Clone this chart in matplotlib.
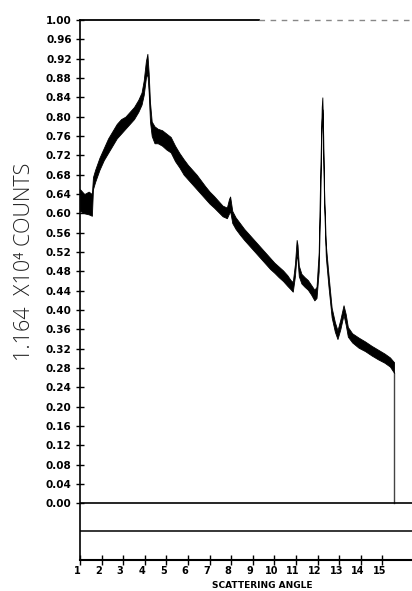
import numpy as np
import matplotlib
matplotlib.use("Agg")
import matplotlib.pyplot as plt
from matplotlib.transforms import offset_copy

# ---- scan data: scattering angle vs counts (noise band, lower / upper edge) ----
angle = [1.00, 1.20, 1.40, 1.55, 1.60, 1.70, 1.90, 2.10, 2.30, 2.50,
         2.70, 2.90, 3.10, 3.30, 3.50, 3.70, 3.85, 3.95, 4.05, 4.12,
         4.18, 4.24, 4.32, 4.45, 4.60, 4.80, 5.00, 5.20, 5.40, 5.60,
         5.80, 6.00, 6.20, 6.40, 6.60, 6.80, 7.00, 7.20, 7.40, 7.60,
         7.80, 7.90, 7.95, 8.05, 8.20, 8.40, 8.60, 8.80, 9.00, 9.20,
         9.40, 9.60, 9.80, 10.00, 10.20, 10.40, 10.60, 10.75, 10.85, 10.95,
         11.03, 11.07, 11.13, 11.25, 11.40, 11.55, 11.70, 11.85, 11.95, 12.05,
         12.12, 12.19, 12.22, 12.26, 12.30, 12.38, 12.50, 12.65, 12.80, 12.92,
         13.05, 13.20, 13.30, 13.40, 13.60, 13.90, 14.20, 14.50, 14.80, 15.10,
         15.35, 15.54]
counts_lo = [0.605, 0.600, 0.598, 0.595, 0.650, 0.665, 0.690, 0.710, 0.725, 0.740,
             0.755, 0.765, 0.775, 0.785, 0.795, 0.810, 0.825, 0.845, 0.880, 0.890,
             0.850, 0.790, 0.760, 0.745, 0.745, 0.740, 0.732, 0.726, 0.708, 0.695,
             0.680, 0.670, 0.660, 0.650, 0.640, 0.630, 0.620, 0.612, 0.603, 0.594,
             0.590, 0.600, 0.605, 0.580, 0.568, 0.556, 0.545, 0.535, 0.525, 0.515,
             0.505, 0.495, 0.485, 0.477, 0.468, 0.460, 0.450, 0.443, 0.438, 0.470,
             0.515, 0.505, 0.470, 0.455, 0.448, 0.442, 0.432, 0.420, 0.425, 0.480,
             0.620, 0.790, 0.815, 0.720, 0.620, 0.510, 0.450, 0.385, 0.355, 0.340,
             0.360, 0.390, 0.370, 0.345, 0.333, 0.322, 0.315, 0.306, 0.298, 0.291,
             0.283, 0.270]
counts_hi = [0.650, 0.640, 0.645, 0.640, 0.675, 0.690, 0.715, 0.735, 0.755, 0.770,
             0.785, 0.795, 0.800, 0.810, 0.820, 0.835, 0.850, 0.875, 0.915, 0.930,
             0.890, 0.830, 0.790, 0.780, 0.775, 0.772, 0.765, 0.758, 0.740, 0.725,
             0.712, 0.700, 0.690, 0.680, 0.668, 0.656, 0.645, 0.636, 0.626, 0.616,
             0.612, 0.630, 0.635, 0.605, 0.592, 0.580, 0.568, 0.558, 0.548, 0.538,
             0.528, 0.518, 0.508, 0.498, 0.490, 0.482, 0.472, 0.462, 0.458, 0.495,
             0.545, 0.535, 0.492, 0.475, 0.468, 0.462, 0.452, 0.442, 0.448, 0.520,
             0.680, 0.820, 0.840, 0.760, 0.650, 0.535, 0.475, 0.405, 0.375, 0.358,
             0.380, 0.410, 0.392, 0.365, 0.352, 0.343, 0.335, 0.326, 0.318, 0.310,
             0.302, 0.292]

yticks = [round(0.04 * i, 2) for i in range(26)]
xticks = list(range(1, 16))

fig = plt.figure(figsize=(4.12, 5.91), dpi=100)
ax = fig.add_axes([80 / 412, 31 / 591, 332 / 412, 540 / 591])
ax.set_xlim(1, 16.37)
ax.set_ylim(-0.117, 1.0)

# spectrum trace drawn as a filled noise band
ax.fill_between(angle, counts_lo, counts_hi, color="black", lw=0.6, zorder=3)
# drop to the baseline at the end of the scan
ax.plot([angle[-1], angle[-1]], [0, counts_lo[-1]], color="#444444", lw=1.0)

# baseline and lower reference line
ax.axhline(0.0, color="black", lw=1.2)
ax.axhline(-0.057, color="black", lw=1.1)

# top border: solid then faded dashes
ax.plot([1, 9.3], [1.0, 1.0], color="black", lw=1.3, clip_on=False)
ax.plot([9.3, 16.37], [1.0, 1.0], color="#888888", lw=1.0, ls=(0, (4, 4)), clip_on=False)

for s in ["top", "right"]:
    ax.spines[s].set_visible(False)
ax.spines["left"].set_linewidth(1.2)
ax.spines["bottom"].set_linewidth(1.5)

ax.set_yticks(yticks)
ax.set_yticklabels([f"{v:.2f}" for v in yticks])
ax.set_xticks(xticks)
ax.set_xticklabels([str(v) for v in xticks])
ax.tick_params(axis="y", direction="inout", length=6, width=1, pad=3,
               labelsize=7.5)
ax.tick_params(axis="x", direction="inout", length=7, width=1, pad=1,
               labelsize=7)
for lab in ax.get_yticklabels() + ax.get_xticklabels():
    lab.set_fontweight("bold")
for lab in ax.get_xticklabels():
    lab.set_transform(offset_copy(lab.get_transform(), fig=fig, x=-3, y=0, units="dots"))

fig.text(262 / 412, 1 - 586 / 591, "SCATTERING ANGLE", ha="center", va="center",
         fontsize=6.5, fontweight="bold")
fig.text(25 / 412, 1 - 262 / 591, "1.164  X10\u2074 COUNTS", rotation=90,
         ha="center", va="center", fontsize=15.5, family="Open Sans",
         fontweight="light", color="#222222")

fig.savefig("out.png", dpi=100, facecolor="white")
